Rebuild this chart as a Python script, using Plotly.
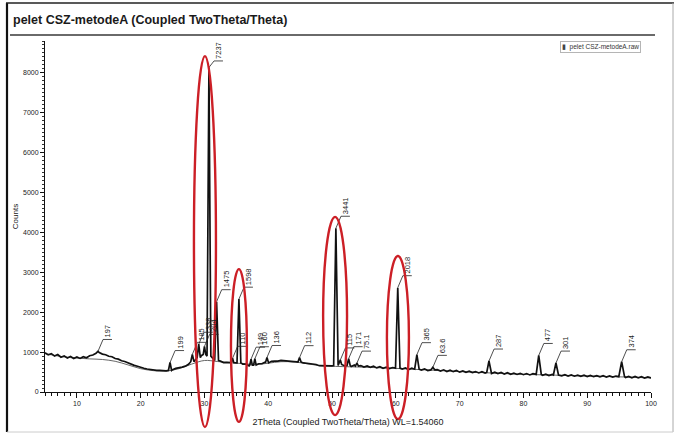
import plotly.graph_objects as go

# ---- Raw scan: continuous background, 0.5 deg steps from 5 to 100 deg 2theta ----
scan_start = 5.0
scan_step = 0.5
scan_counts = [
    985, 930, 962, 900, 938, 872, 905, 852, 890, 838,    # 5.0 - 9.5
    878, 842, 884, 858, 908, 926, 972, 990, 950, 934,    # 10.0 - 14.5
    896, 884, 840, 824, 784, 766, 728, 706, 668, 646,    # 15.0 - 19.5
    614, 596, 576, 562, 554, 541, 540, 528, 532, 536,    # 20.0 - 24.5
    560, 591, 600, 624, 648, 696, 738, 798, 844, 910,    # 25.0 - 29.5
    960, 920, 870, 825, 790, 774, 738, 741, 740, 728,    # 30.0 - 34.5
    730, 730, 700, 698, 656, 694, 664, 708, 708, 748,    # 35.0 - 39.5
    720, 768, 774, 774, 794, 782, 782, 768, 764, 754,    # 40.0 - 44.5
    744, 728, 722, 708, 704, 689, 660, 658, 654, 646,    # 45.0 - 49.5
    654, 686, 694, 694, 654, 678, 640, 674, 634, 663,    # 50.0 - 54.5
    624, 652, 617, 646, 604, 636, 594, 620, 588, 614,    # 55.0 - 59.5
    600, 592, 574, 604, 564, 596, 558, 584, 548, 580,    # 60.0 - 64.5
    538, 568, 536, 560, 524, 556, 514, 546, 510, 538,    # 65.0 - 69.5
    498, 530, 494, 522, 486, 512, 478, 510, 474, 502,    # 70.0 - 74.5
    464, 496, 460, 488, 448, 484, 444, 470, 440, 468,    # 75.0 - 79.5
    434, 462, 428, 458, 424, 452, 420, 446, 412, 442,    # 80.0 - 84.5
    414, 438, 406, 436, 400, 430, 396, 424, 392, 420,    # 85.0 - 89.5
    388, 416, 384, 410, 380, 408, 376, 404, 372, 400,    # 90.0 - 94.5
    370, 396, 364, 392, 358, 388, 354, 382, 348, 376,    # 95.0 - 99.5
    352,                                                  # 100.0
]

# ---- Fitted background curve ----
bg_theta = [5, 8, 10, 12, 14, 16, 18, 20, 22, 24, 26, 28, 30, 32, 34, 36, 38, 40,
            42, 44, 46, 48, 50, 55, 60, 65, 70, 75, 80, 85, 90, 95, 100]
bg_counts = [960, 880, 850, 830, 815, 770, 680, 585, 535, 525, 585, 700, 790, 765, 735,
             712, 690, 722, 760, 752, 712, 662, 645, 622, 592, 552, 512, 476, 442, 422,
             400, 380, 352]

# ---- Peak search results: position (deg 2theta), net counts, local background ----
peak_pos = [13.3, 24.6, 28.1, 29.1, 30.0, 30.7, 31.9, 34.4, 35.4, 37.3, 37.9, 39.8,
            44.9, 50.6, 51.3, 52.6, 53.9, 60.3, 63.3, 65.8, 74.6, 82.4, 85.1, 95.4]
peak_net = [197, 199, 185, 338, 204, 7237, 1475, 110, 1598, 149, 160, 136,
            112, 3441, 115, 171, 75.1, 2018, 365, 63.6, 287, 477, 301, 374]
peak_base = [820, 540, 760, 860, 940, 900, 790, 735, 730, 675, 675, 730,
             750, 665, 690, 665, 650, 598, 572, 555, 490, 440, 425, 385]
peak_halfwidth = [0, 0.25, 0.25, 0.25, 0.2, 0.3, 0.3, 0.2, 0.3, 0.2, 0.2, 0.25,
                  0.25, 0.35, 0.2, 0.25, 0.25, 0.35, 0.35, 0.3, 0.35, 0.4, 0.4, 0.45]

# ---- Highlighted reflections (ellipse bounds in deg 2theta / counts) ----
ring_lo = [28.35, 34.15, 48.6, 58.6]
ring_hi = [31.8, 36.65, 52.35, 62.05]
ring_top = [8420, 3080, 4390, 3410]
ring_bottom = [-880, -750, -580, -680]

X_RANGE = [5, 100]
Y_RANGE = [0, 8800]
PLOT_L, PLOT_R, PLOT_T, PLOT_B = 45, 651, 41, 392
W, H = 681, 434

# Assemble the measured trace: background steps plus the peak profiles
scan_theta = [scan_start + scan_step * i for i in range(len(scan_counts))]
points = []
for x, y in zip(scan_theta, scan_counts):
    inside = any(w > 0 and p - w <= x <= p + w for p, w in zip(peak_pos, peak_halfwidth))
    if not inside:
        points.append((x, y))
for p, n, b, w in zip(peak_pos, peak_net, peak_base, peak_halfwidth):
    points.append((p, b + n))
    if w > 0:
        points.append((p - w, b))
        points.append((p + w, b))
points.sort()
trace_x = [pt[0] for pt in points]
trace_y = [pt[1] for pt in points]

fig = go.Figure()
fig.add_trace(go.Scatter(x=bg_theta, y=bg_counts, mode="lines",
                         line=dict(color="#555555", width=0.9, shape="spline"),
                         hoverinfo="skip", showlegend=False))
fig.add_trace(go.Scatter(x=trace_x, y=trace_y, mode="lines", name="pelet CSZ-metodeA.raw",
                         line=dict(color="#111111", width=1.7), showlegend=False))

shapes = []
annotations = []

# Peak labels: leader line, base bar and vertical value text
LIFT = 300
CAP = 8300
for p, n, b in zip(peak_pos, peak_net, peak_base):
    top = b + n
    yb = min(top + LIFT, CAP)
    shapes.append(dict(type="line", xref="x", yref="y", x0=p, y0=top, x1=p + 0.8, y1=yb,
                       line=dict(color="#222222", width=0.8)))
    shapes.append(dict(type="line", xref="x", yref="y", x0=p + 0.8, y0=yb, x1=p + 2.2, y1=yb,
                       line=dict(color="#222222", width=0.8)))
    annotations.append(dict(x=p + 1.5, y=yb, xref="x", yref="y", text=f"{n:g}",
                            showarrow=False, textangle=-90, xanchor="center", yanchor="bottom",
                            font=dict(size=7.5, color="#222222")))


def xdom(v):
    return (v - X_RANGE[0]) / (X_RANGE[1] - X_RANGE[0])


def ydom(v):
    return (v - Y_RANGE[0]) / (Y_RANGE[1] - Y_RANGE[0])


for lo, hi, t, bt in zip(ring_lo, ring_hi, ring_top, ring_bottom):
    shapes.append(dict(type="circle", xref="x domain", yref="y domain",
                       x0=xdom(lo), x1=xdom(hi), y0=ydom(bt), y1=ydom(t),
                       line=dict(color="#cc1f26", width=2.4), layer="above"))


def px(xp):
    return (xp - PLOT_L) / (PLOT_R - PLOT_L)


def py(yp):
    return (PLOT_B - yp) / (PLOT_B - PLOT_T)


# Page frame and title rule
shapes.append(dict(type="line", xref="paper", yref="paper", x0=px(7), x1=px(7), y0=py(3), y1=py(432),
                   line=dict(color="#111111", width=2.2)))
shapes.append(dict(type="line", xref="paper", yref="paper", x0=px(6), x1=px(674), y0=py(3), y1=py(3),
                   line=dict(color="#222222", width=1.6)))
shapes.append(dict(type="line", xref="paper", yref="paper", x0=px(673), x1=px(673), y0=py(3), y1=py(432),
                   line=dict(color="#aaaaaa", width=1)))
shapes.append(dict(type="line", xref="paper", yref="paper", x0=px(7), x1=px(673), y0=py(432), y1=py(432),
                   line=dict(color="#cccccc", width=1)))
shapes.append(dict(type="line", xref="paper", yref="paper", x0=px(10), x1=px(655), y0=py(35), y1=py(35),
                   line=dict(color="#6a6a6a", width=2)))

# Legend box
annotations.append(dict(x=px(600), y=py(47.5), xref="paper", yref="paper",
                        text="<span style='color:#444'>▮</span>  pelet CSZ-metodeA.raw",
                        showarrow=False, xanchor="center", yanchor="middle",
                        font=dict(size=6.5, color="#333333"),
                        bordercolor="#b5b5b5", borderwidth=1, borderpad=1, bgcolor="white"))

fig.update_layout(
    width=W, height=H,
    margin=dict(l=PLOT_L, r=W - PLOT_R, t=PLOT_T, b=H - PLOT_B, autoexpand=False),
    paper_bgcolor="white", plot_bgcolor="white",
    font=dict(family="Liberation Sans, Arial, sans-serif", color="#222222"),
    showlegend=False,
    title=dict(text="<b>pelet CSZ-metodeA (Coupled TwoTheta/Theta)</b>",
               xref="container", yref="container", x=13 / W, y=1 - 20 / H,
               xanchor="left", yanchor="middle", font=dict(size=12.5, color="#1a1a1a")),
    shapes=shapes,
    annotations=annotations,
)
fig.update_xaxes(range=X_RANGE, tickmode="linear", tick0=0, dtick=10,
                 ticks="outside", ticklen=5, tickwidth=1, tickcolor="#111",
                 showline=True, linecolor="#111", linewidth=1,
                 showgrid=False, zeroline=False, automargin=False,
                 tickfont=dict(size=7, color="#222"),
                 minor=dict(tick0=0, dtick=1, ticks="outside", ticklen=3, tickcolor="#111"),
                 title=dict(text="2Theta (Coupled TwoTheta/Theta) WL=1.54060",
                            font=dict(size=9, color="#222"), standoff=12))
fig.update_yaxes(range=Y_RANGE, tickmode="linear", tick0=0, dtick=1000,
                 ticks="outside", ticklen=4, tickwidth=1, tickcolor="#111",
                 showline=True, linecolor="#111", linewidth=1,
                 showgrid=False, zeroline=False, automargin=False,
                 tickfont=dict(size=7, color="#222"),
                 minor=dict(tick0=0, dtick=100, ticks="outside", ticklen=2, tickcolor="#333"),
                 title=dict(text="Counts", font=dict(size=8, color="#222"), standoff=3))

fig.write_html("out.html")
